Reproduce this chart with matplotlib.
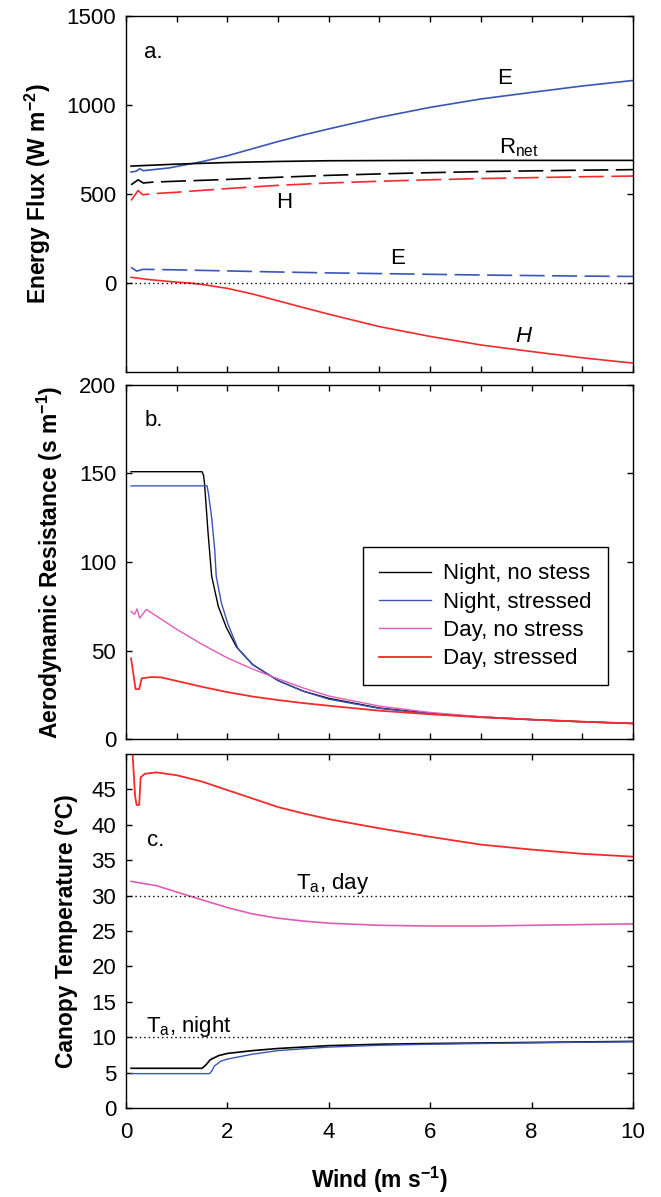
import matplotlib
matplotlib.use("Agg")
import matplotlib.pyplot as plt
from matplotlib.ticker import MultipleLocator

plt.rcParams['font.family'] = ['Liberation Sans', 'DejaVu Sans']
plt.rcParams['mathtext.default'] = 'regular'

# ---------------- panel a: energy flux ----------------
x_e_solid = [0.1, 0.2, 0.27, 0.34, 0.5, 0.86, 1.0, 1.5, 2.0, 2.5, 3.0, 3.5, 4.0, 5.0, 6.0, 7.0, 8.0, 9.0, 10.0]
e_solid = [624, 628, 642, 631, 636, 647, 655, 682, 715, 755, 795, 832, 866, 931, 987, 1034, 1071, 1107, 1138]

x_rnet = [0.1, 1.0, 2.0, 3.0, 4.0, 6.0, 8.0, 10.0]
rnet = [657, 668, 677, 683, 687, 689, 689, 689]

x_rnet_dash = [0.1, 0.24, 0.34, 0.53, 1.0, 2.0, 3.0, 4.0, 5.0, 6.0, 7.0, 8.0, 9.0, 10.0]
rnet_dash = [552, 580, 562, 567, 572, 582, 594, 605, 613, 620, 626, 630, 634, 637]

x_h_dash = [0.1, 0.24, 0.33, 0.53, 1.0, 1.85, 3.0, 4.0, 5.0, 6.0, 7.0, 8.0, 9.0, 10.0]
h_dash = [464, 520, 496, 502, 510, 528, 549, 562, 572, 580, 587, 592, 597, 601]

x_e_dash = [0.1, 0.21, 0.34, 1.0, 2.0, 3.0, 4.0, 5.0, 6.0, 7.0, 8.0, 9.0, 10.0]
e_dash = [88, 67, 77, 74, 68, 62, 57, 53, 49, 45, 42, 39, 37]

x_h_solid = [0.1, 0.5, 1.0, 1.26, 1.5, 2.0, 2.5, 3.0, 3.5, 4.0, 5.0, 6.0, 7.0, 8.0, 9.0, 10.0]
h_solid = [32, 18, 5, 0, -8, -30, -62, -100, -138, -175, -245, -300, -348, -385, -420, -450]

# ---------------- panel b: aerodynamic resistance ----------------
x_ra_night = [0.1, 1.5, 1.53, 1.55, 1.62, 1.69, 1.82, 1.98, 2.18, 2.5, 3.0, 3.5, 4.0, 5.0, 6.0, 7.0, 8.0, 9.0, 10.0]
ra_night = [151, 151, 149, 144, 116, 92, 75, 63, 52, 42, 33, 27, 23, 17.5, 14.5, 12.5, 11, 9.8, 8.8]

x_ra_night_st = [0.1, 1.6, 1.63, 1.69, 1.75, 1.78, 1.88, 2.01, 2.21, 2.5, 3.0, 3.5, 4.0, 5.0, 6.0, 7.0, 8.0, 9.0, 10.0]
ra_night_st = [143, 143, 138, 125, 107, 92, 77, 65, 51, 42, 33, 27, 22.5, 17.3, 14.3, 12.3, 10.9, 9.7, 8.8]

x_ra_day = [0.1, 0.17, 0.22, 0.27, 0.4, 0.6, 1.0, 1.5, 2.0, 2.5, 3.0, 3.5, 4.0, 5.0, 6.0, 7.0, 8.0, 9.0, 10.0]
ra_day = [72, 70.5, 73.5, 68.3, 73.2, 69.5, 62, 53.5, 45.8, 39.5, 34, 28.8, 24.3, 18.6, 15, 12.6, 11, 9.7, 8.7]

x_ra_day_st = [0.1, 0.17, 0.19, 0.26, 0.31, 0.5, 0.7, 1.0, 1.5, 2.0, 2.5, 3.0, 3.5, 4.0, 5.0, 6.0, 7.0, 8.0, 9.0, 10.0]
ra_day_st = [45.6, 32, 28.2, 28.2, 34.3, 35, 34.8, 32.8, 29.5, 26.5, 24, 22, 20.3, 18.8, 16, 14, 12.3, 11, 9.8, 8.8]

legend_labels = ["Night, no stess", "Night, stressed", "Day, no stress", "Day, stressed"]

# ---------------- panel c: canopy temperature ----------------
x_tc_day_st = [0.1, 0.13, 0.18, 0.21, 0.26, 0.29, 0.37, 0.6, 1.0, 1.5, 2.0, 2.5, 3.0, 3.5, 4.0, 5.0, 6.0, 7.0, 8.0, 9.0, 10.0]
tc_day_st = [51, 50, 44, 42.8, 42.8, 46.7, 47.2, 47.4, 47.0, 46.1, 44.9, 43.7, 42.5, 41.6, 40.8, 39.5, 38.3, 37.2, 36.5, 35.9, 35.5]

x_tc_day = [0.1, 0.6, 1.0, 1.5, 2.0, 2.5, 3.0, 3.5, 4.0, 5.0, 6.0, 7.0, 8.0, 9.0, 10.0]
tc_day = [32.0, 31.4, 30.5, 29.4, 28.3, 27.4, 26.8, 26.4, 26.1, 25.8, 25.7, 25.7, 25.8, 25.9, 26.0]

x_tc_night = [0.1, 1.5, 1.58, 1.66, 1.83, 2.0, 2.5, 3.0, 4.0, 5.0, 6.0, 8.0, 10.0]
tc_night = [5.6, 5.6, 6.1, 6.8, 7.4, 7.7, 8.1, 8.4, 8.8, 9.0, 9.1, 9.25, 9.4]

x_tc_night_st = [0.1, 1.65, 1.7, 1.74, 1.87, 2.0, 2.5, 3.0, 4.0, 5.0, 6.0, 8.0, 10.0]
tc_night_st = [4.85, 4.85, 5.3, 5.9, 6.6, 6.9, 7.6, 8.1, 8.6, 8.85, 9.0, 9.2, 9.35]

ta_day = 30
ta_night = 10

BLUE = "#3a55b8"
RED = "#f52a2a"
PINK = "#e05cb4"
BLACK = "black"
FS = 16
LFS = 16.5   # axis-label size
LW = 1.2
DASH = (0, (15, 4.5))
DOT = (0, (1, 2.2))


def style(ax, xminor=True):
    ax.set_xlim(0, 10)
    ax.xaxis.set_major_locator(MultipleLocator(2))
    if xminor:
        ax.xaxis.set_minor_locator(MultipleLocator(1))
    ax.tick_params(which='both', direction='in', top=True, right=True,
                   length=4, width=1, labelsize=FS, pad=7)
    ax.tick_params(axis='x', pad=10)
    for s in ax.spines.values():
        s.set_linewidth(1.0)


fig = plt.figure(figsize=(6.61, 11.97), dpi=100)
L, W = 0.1906, 0.767
ax_a = fig.add_axes([L, 0.6892, W, 0.2974])
ax_b = fig.add_axes([L, 0.3826, W, 0.2958])
ax_c = fig.add_axes([L, 0.0744, W, 0.2957])

# ---- a
ax_a.plot(x_e_solid, e_solid, color=BLUE, lw=LW)
ax_a.plot(x_rnet, rnet, color=BLACK, lw=LW)
ax_a.plot(x_rnet_dash, rnet_dash, color=BLACK, lw=LW, ls=DASH)
ax_a.plot(x_h_dash, h_dash, color=RED, lw=LW, ls=DASH)
ax_a.plot(x_e_dash, e_dash, color=BLUE, lw=LW, ls=DASH)
ax_a.plot(x_h_solid, h_solid, color=RED, lw=LW)
ax_a.axhline(0, color=BLACK, lw=1.0, ls=DOT)
ax_a.set_ylim(-500, 1500)
ax_a.set_yticks([0, 500, 1000, 1500])
style(ax_a)
ax_a.tick_params(labelbottom=False)
ax_a.set_ylabel(r"Energy Flux (W m$^{-2}$)", fontsize=LFS, fontweight='bold', labelpad=10)
ax_a.text(0.54, 1296, "a.", fontsize=FS, ha='center', va='center')
ax_a.text(7.47, 1148, "E", fontsize=FS, ha='center', va='center')
ax_a.text(7.76, 762, r"R$_{net}$", fontsize=FS, ha='center', va='center')
ax_a.text(3.13, 455, "H", fontsize=FS, ha='center', va='center')
ax_a.text(5.35, 139, "E", fontsize=FS, ha='center', va='center')
ax_a.text(7.83, -303, "H", fontsize=FS, ha='center', va='center', style='italic')

# ---- b
ax_b.plot(x_ra_night, ra_night, color=BLACK, lw=1.0, label=legend_labels[0])
ax_b.plot(x_ra_night_st, ra_night_st, color=BLUE, lw=1.0, label=legend_labels[1])
ax_b.plot(x_ra_day, ra_day, color=PINK, lw=1.0, label=legend_labels[2])
ax_b.plot(x_ra_day_st, ra_day_st, color=RED, lw=1.3, label=legend_labels[3])
ax_b.set_ylim(0, 200)
ax_b.set_yticks([0, 50, 100, 150, 200])
style(ax_b)
ax_b.tick_params(labelbottom=False)
ax_b.set_ylabel(r"Aerodynamic Resistance (s m$^{-1}$)", fontsize=LFS, fontweight='bold', labelpad=10)
ax_b.text(0.54, 180, "b.", fontsize=FS, ha='center', va='center')
leg = ax_b.legend(loc='upper left', bbox_to_anchor=(0.467, 0.541), borderaxespad=0,
                  fontsize=FS, frameon=True, fancybox=False, framealpha=1,
                  edgecolor='black', handlelength=2.35, handletextpad=0.55,
                  labelspacing=0.33, borderpad=0.72)
leg.get_frame().set_linewidth(1.0)

# ---- c
ax_c.plot(x_tc_day_st, tc_day_st, color=RED, lw=1.3)
ax_c.plot(x_tc_day, tc_day, color=PINK, lw=1.2)
ax_c.plot(x_tc_night, tc_night, color=BLACK, lw=1.2)
ax_c.plot(x_tc_night_st, tc_night_st, color=BLUE, lw=1.0)
ax_c.axhline(ta_day, color=BLACK, lw=1.0, ls=DOT)
ax_c.axhline(ta_night, color=BLACK, lw=1.0, ls=DOT)
ax_c.set_ylim(0, 50)
ax_c.set_yticks(range(0, 50, 5))
style(ax_c, xminor=False)
ax_c.set_ylabel("Canopy Temperature (\u00b0C)", fontsize=LFS, fontweight='bold', labelpad=10)
ax_c.set_xlabel(r"Wind (m s$^{-1}$)", fontsize=LFS, fontweight='bold', labelpad=16)
ax_c.text(0.58, 37.8, "c.", fontsize=FS, ha='center', va='center')
ax_c.text(4.08, 31.7, r"T$_a$, day", fontsize=FS, ha='center', va='center')
ax_c.text(1.245, 11.55, r"T$_a$, night", fontsize=FS, ha='center', va='center')

fig.savefig("out.png", dpi=100)
